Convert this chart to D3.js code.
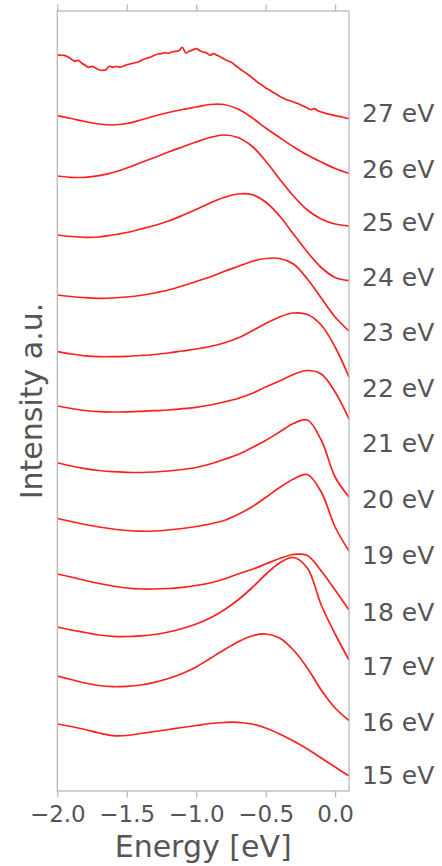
<!DOCTYPE html>
<html>
<head>
<meta charset="utf-8">
<script src="https://cdn.jsdelivr.net/npm/d3@7"></script>
<style>
  body { margin: 0; background: #fff; }
  text { font-family: "DejaVu Sans", sans-serif; fill: #555; }
</style>
</head>
<body>
<div id="chart"></div>
<script>
// energy axis, eV
const energies = [-2.0, -1.9, -1.8, -1.7, -1.6, -1.5, -1.4, -1.3, -1.2, -1.1, -1.0,
  -0.9, -0.8, -0.7, -0.6, -0.5, -0.4, -0.3, -0.2, -0.1, 0.0, 0.1];
// the 27 eV spectrum is noisy, read on a finer grid
const energiesFine = [-2.0, -1.975, -1.95, -1.925, -1.9, -1.875, -1.85, -1.825, -1.8,
  -1.775, -1.75, -1.725, -1.7, -1.675, -1.65, -1.625, -1.6, -1.575, -1.55, -1.525, -1.5,
  -1.475, -1.45, -1.425, -1.4, -1.375, -1.35, -1.325, -1.3, -1.275, -1.25, -1.225, -1.2,
  -1.175, -1.15, -1.125, -1.1, -1.075, -1.05, -1.025, -1.0, -0.975, -0.95, -0.925, -0.9,
  -0.875, -0.85, -0.825, -0.8, -0.775, -0.75, -0.725, -0.7, -0.675, -0.65, -0.625, -0.6,
  -0.575, -0.55, -0.525, -0.5, -0.475, -0.45, -0.425, -0.4, -0.375, -0.35, -0.325, -0.3,
  -0.275, -0.25, -0.225, -0.2, -0.175, -0.15, -0.125, -0.1, -0.075, -0.05, -0.025, 0.0,
  0.025, 0.05, 0.075, 0.1];

// stacked intensities (a.u., offsets included)
const i27 = [736.3, 735.7, 735.7, 734.3, 732, 729.7, 730.7, 728, 725.7,
  723.7, 724.7, 723, 721.3, 720.7, 721.3, 724.7, 723.7, 724.7, 723.7, 724.7, 726.3,
  727, 728, 728.7, 730.3, 732, 733, 734, 735.7, 737, 737.3, 738.3, 737.7,
  739, 739.7, 740.3, 743.7, 738, 739.7, 741, 742.3, 740.3, 739, 738, 735.7,
  737.3, 735.7, 734, 732, 730.3, 729, 726.3, 723.7, 721, 718.7, 716.3, 713.7,
  710.7, 708, 705.7, 703, 701.3, 699, 697, 694.7, 693, 691.3, 690.3, 689,
  687.7, 686.3, 684.7, 683, 681.3, 682.3, 680.3, 679, 678, 677, 676.3, 675.3,
  674.7, 674, 673, 672.3];
const i26 = [675.3, 672.5, 669.5, 667, 666, 667.5, 671, 675, 678.5, 681.5, 684,
  686.5, 686.5, 682, 673.5, 663, 653.5, 644.3, 636, 629, 622.5, 617.7];
const i25 = [615, 613.7, 613.7, 615.3, 618.5, 623, 628.3, 633.5, 639, 644, 649,
  653.5, 656, 653.5, 645, 630, 612, 595, 581, 572, 567, 565];
const i24 = [556, 554.5, 553.7, 554, 556, 558.5, 562, 565.5, 570, 575.5, 581.5,
  588, 593.5, 597, 596.5, 589, 575, 557, 539, 523.5, 513.5, 510.3];
const i23 = [496, 494.5, 493.3, 492.7, 493, 494, 495.5, 498, 501, 505, 509.5,
  514, 519.5, 524.5, 529.5, 532.5, 532.5, 527, 512, 493, 474, 460];
const i22 = [439.3, 437, 435.2, 434.3, 434.3, 434.7, 435.5, 436.5, 438, 440, 442,
  444.5, 448, 453, 460, 467.5, 474, 478, 476.5, 466, 444, 414];
const i21 = [385, 382.5, 380.5, 379.3, 379, 379.2, 379.7, 380.3, 381, 382.3, 383.7,
  386, 389, 392.5, 397.5, 404, 410, 416.5, 420.5, 417, 399, 372];
const i20 = [328.3, 325, 322.3, 320.5, 319.3, 318.7, 318.5, 319, 320, 321.5, 323.5,
  327, 331.5, 336.5, 343.3, 350.5, 359, 367.5, 371, 351, 314, 294];
const i19 = [272.5, 269.5, 266.5, 264, 262, 260.5, 259.8, 260, 261, 262.5, 264.5,
  267, 270.5, 276.5, 284, 293.5, 303.5, 312, 316.5, 299, 264, 240];
const i18 = [217, 214, 210.5, 207.5, 205, 203, 202, 202, 202.5, 203.7, 205.5,
  208, 212, 217, 221.5, 227, 232.5, 236.5, 235.5, 220, 201, 181];
const i17 = [164, 161, 158.5, 156, 154.7, 154.5, 155.2, 156.5, 159, 162.5, 167,
  173, 181, 191, 203, 216.5, 228, 233.5, 223, 186, 157, 131];
const i16 = [115, 111.5, 108, 105.5, 104.3, 104.7, 106, 108.7, 112.5, 117.5, 124,
  132.5, 141, 149, 155, 157, 153, 141, 123, 101, 83, 70.5];
const i15 = [67, 64.5, 61.5, 58, 55.3, 55.5, 57.5, 59.5, 61.5, 63.5, 65.5,
  67.5, 68.5, 68.7, 67, 63, 57, 50, 42, 33, 24, 15];

const labels = ["27 eV", "26 eV", "25 eV", "24 eV", "23 eV", "22 eV", "21 eV",
  "20 eV", "19 eV", "18 eV", "17 eV", "16 eV", "15 eV"];
const labelPos = [678, 622, 569.3, 514.3, 459.3, 403, 348, 292, 236, 179.3, 125, 69.3, 16];
const xTicks = [-2.0, -1.5, -1.0, -0.5, 0.0];

const spectra = [
  { e: energiesFine, v: i27 },
  { e: energies, v: i26 }, { e: energies, v: i25 }, { e: energies, v: i24 },
  { e: energies, v: i23 }, { e: energies, v: i22 }, { e: energies, v: i21 },
  { e: energies, v: i20 }, { e: energies, v: i19 }, { e: energies, v: i18 },
  { e: energies, v: i17 }, { e: energies, v: i16 }, { e: energies, v: i15 }
];

const W = 442, H = 866;
const pL = 57.3, pR = 349, pT = 11, pB = 791;

const svg = d3.select("#chart").append("svg")
  .attr("width", W)
  .attr("height", H);

const x = d3.scaleLinear().domain([-2.0, 0.1]).range([pL, pR]);
const y = d3.scaleLinear().domain([0, 780]).range([pB, pT]);

const line = d3.line()
  .x(d => x(d[0]))
  .y(d => y(d[1]))
  .curve(d3.curveCatmullRom.alpha(0.5));

svg.selectAll("path.spec")
  .data(spectra)
  .enter().append("path")
  .attr("class", "spec")
  .attr("d", s => line(s.e.map((e, i) => [e, s.v[i]])))
  .attr("fill", "none")
  .attr("stroke", "#ff1f1f")
  .attr("stroke-width", 1.7)
  .attr("stroke-linejoin", "round");

// frame
svg.append("rect")
  .attr("x", pL).attr("y", pT)
  .attr("width", pR - pL).attr("height", pB - pT)
  .attr("fill", "none")
  .attr("stroke", "#b8b8b8")
  .attr("stroke-width", 1.3);

const fmt = d => d3.format(".1f")(d).replace("-", "\u2212");

const xAxis = svg.append("g")
  .attr("transform", `translate(0,${pB})`)
  .call(d3.axisBottom(x).tickValues(xTicks).tickSize(6.5).tickPadding(8).tickFormat(fmt));
xAxis.select(".domain").remove();
xAxis.selectAll("line").attr("stroke", "#b8b8b8").attr("stroke-width", 1.3);
xAxis.selectAll("text")
  .style("font-size", "23px")
  .style("font-family", "DejaVu Sans")
  .attr("fill", "#555");

const topAxis = svg.append("g")
  .attr("transform", `translate(0,${pT})`)
  .call(d3.axisTop(x).tickValues(xTicks).tickSize(6.5).tickFormat(""));
topAxis.select(".domain").remove();
topAxis.selectAll("line").attr("stroke", "#b8b8b8").attr("stroke-width", 1.3);

svg.selectAll("text.lab")
  .data(labels)
  .enter().append("text")
  .attr("class", "lab")
  .attr("x", 362)
  .attr("y", (d, i) => y(labelPos[i]))
  .attr("dy", "0.36em")
  .style("font-size", "25px")
  .text(d => d);

svg.append("text")
  .attr("x", (pL + pR) / 2)
  .attr("y", 857)
  .attr("text-anchor", "middle")
  .style("font-size", "30px")
  .text("Energy [eV]");

svg.append("text")
  .attr("transform", `translate(42,${(pT + pB) / 2}) rotate(-90)`)
  .attr("text-anchor", "middle")
  .style("font-size", "30px")
  .text("Intensity a.u.");
</script>
</body>
</html>
